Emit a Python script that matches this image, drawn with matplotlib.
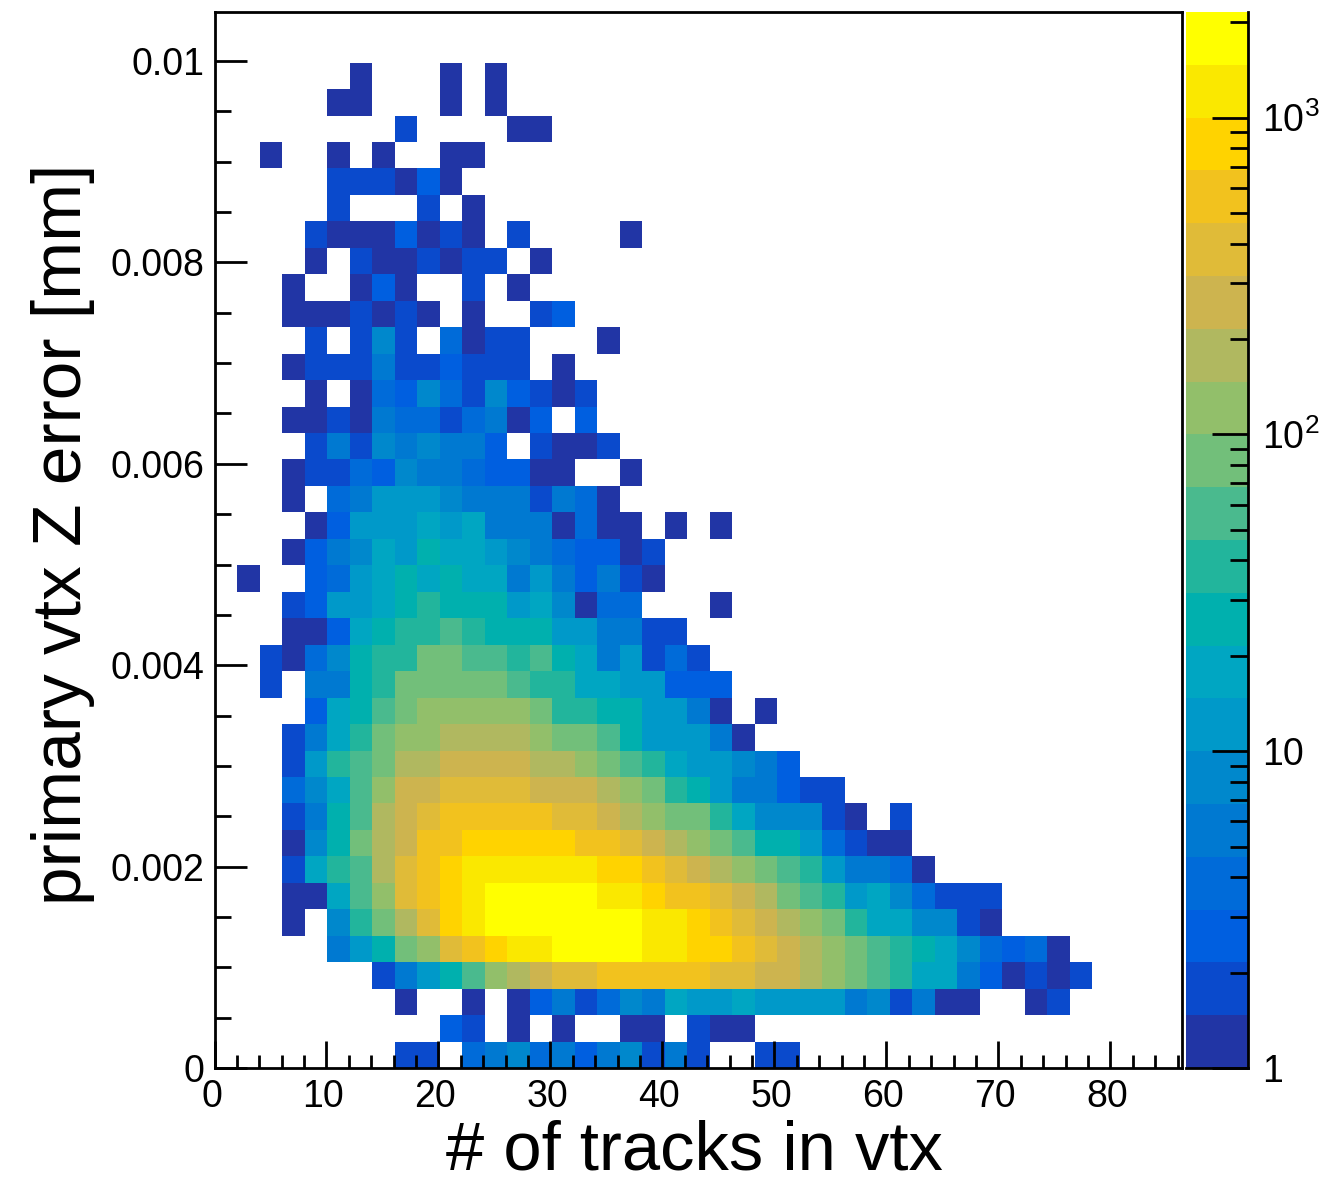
#!/usr/bin/env python3
"""Primary vertex Z error vs. number of tracks, drawn as a ROOT style COLZ histogram."""

import matplotlib
matplotlib.use("Agg")
import matplotlib.pyplot as plt
import numpy as np
from matplotlib.colors import BoundaryNorm, ListedColormap
from matplotlib.ticker import LogLocator, MultipleLocator, NullFormatter
from matplotlib.transforms import ScaledTranslation

# ---------------------------------------------------------------------------
# Data - counts per bin, bottom row first, from column 0
# ---------------------------------------------------------------------------
counts = [
    [0,0,0,0,0,0,0,0,2,2,0,4,5,8,4,5,3,5,8,2,5,2,0,0,2,2],
    [0,0,0,0,0,0,0,0,0,0,3,2,0,1,0,1,0,0,1,1,0,2,1,1],
    [0,0,0,0,0,0,0,0,1,0,0,1,0,1,3,5,2,4,8,5,18,12,12,18,12,12,12,12,5,8,2,5,1,1,0,0,1,2],
    [0,0,0,0,0,0,0,2,5,12,26,56,120,180,260,380,380,560,560,560,560,560,380,380,260,260,180,120,82,56,38,18,18,5,3,1,2,1,2],
    [0,0,0,0,0,5,12,26,82,120,380,560,820,1200,1200,1800,1800,1800,1800,1200,1200,820,820,560,380,260,180,120,82,56,38,26,18,8,4,3,4,1],
    [0,0,0,1,0,8,38,82,180,380,820,1200,1800,1800,1800,1800,1800,1800,1800,1200,1200,820,560,380,260,180,120,82,38,18,18,8,8,2,1],
    [0,0,0,1,1,18,56,120,380,560,820,1200,1800,1800,1800,1800,1800,1200,1200,820,560,560,380,260,180,82,56,38,12,18,8,4,2,2,2],
    [0,0,0,2,18,38,56,180,380,560,820,1200,1200,1200,1200,1200,1200,820,820,560,380,260,180,120,82,56,38,12,5,5,4,1],
    [0,0,0,1,8,26,82,180,260,560,560,820,820,820,820,820,560,560,380,260,180,120,82,56,26,26,12,4,2,1,1],
    [0,0,0,2,5,26,56,180,260,380,560,560,560,560,560,380,380,260,180,120,82,82,38,18,8,8,8,2,1,0,2],
    [0,0,0,4,8,18,56,120,260,260,380,380,380,380,260,260,260,180,120,82,38,26,12,5,5,3,2,2],
    [0,0,0,2,12,38,56,82,180,180,260,260,260,260,180,180,120,82,56,38,18,12,12,8,5,3],
    [0,0,0,2,5,18,38,82,120,120,180,180,180,180,120,82,82,56,26,12,12,12,5,1],
    [0,0,0,0,3,18,26,56,82,120,120,120,120,120,82,38,38,26,26,12,12,5,1,0,1],
    [0,0,2,0,5,5,26,38,82,82,82,82,82,56,38,38,18,18,12,12,3,3,3],
    [0,0,2,1,4,8,26,38,38,82,82,56,56,38,56,26,18,5,12,2,4,2],
    [0,0,0,1,1,3,18,26,38,38,56,38,26,26,26,12,12,5,5,2,2],
    [0,0,0,2,3,12,12,18,26,38,26,26,26,12,18,8,1,4,4,0,0,0,1],
    [0,1,0,0,3,4,12,18,26,18,26,18,18,5,12,5,3,5,2,1],
    [0,0,0,1,3,5,8,18,12,26,18,18,12,8,5,4,3,3,1,2],
    [0,0,0,0,1,3,12,12,12,18,12,18,5,5,5,1,4,1,1,0,1,0,1],
    [0,0,0,1,0,4,5,12,12,12,8,5,5,5,2,5,4,1],
    [0,0,0,1,2,2,4,3,8,5,5,4,3,3,1,1,0,0,1],
    [0,0,0,0,2,5,2,8,5,8,5,5,3,0,2,1,1,2],
    [0,0,0,1,1,2,1,5,4,4,2,4,5,1,3,0,3],
    [0,0,0,0,1,0,1,4,3,8,4,2,8,3,2,1,2],
    [0,0,0,1,2,2,2,5,2,2,3,2,2,2,0,1],
    [0,0,0,0,2,0,2,8,2,0,4,1,2,2,0,0,0,1],
    [0,0,0,1,1,1,2,1,2,1,0,1,0,0,2,3],
    [0,0,0,1,0,0,1,3,1,0,0,2,0,1],
    [0,0,0,0,1,0,2,1,1,2,1,2,2,0,1],
    [0,0,0,0,2,1,1,1,3,1,2,1,0,2,0,0,0,0,1],
    [0,0,0,0,0,2,0,0,0,2,0,1],
    [0,0,0,0,0,2,2,2,1,3,1],
    [0,0,1,0,0,1,0,1,0,0,1,1],
    [0,0,0,0,0,0,0,0,2,0,0,0,0,1,1],
    [0,0,0,0,0,1,1,0,0,0,1,0,1],
    [0,0,0,0,0,0,1,0,0,0,1,0,1],
]

n_xbins = 43
n_ybins = 40
x_max = 86.4
y_max = 0.010487
y_hist_max = 0.01051  # last bin edge, a bit past the frame
z_max = 2154.0

# palette bands of the colour bar, bottom to top
band_colors = [
    "#2135a5", "#0a4acc", "#005fe0", "#006bd9", "#0079d1",
    "#0088cc", "#0099c9", "#00a6c2", "#00b0ae", "#22b59c",
    "#4aba8e", "#72bf7a", "#92bf6a", "#b0b860", "#cdb44f",
    "#e0bb38", "#f2c21e", "#ffd300", "#fae800", "#ffff00",
]

x_label = "# of tracks in vtx"
y_label = "primary vtx Z error [mm]"
y_tick_values = [0, 0.002, 0.004, 0.006, 0.008, 0.01]
y_tick_labels = ["0", "0.002", "0.004", "0.006", "0.008", "0.01"]
z_tick_values = [1, 10, 100, 1000]
z_tick_labels = ["1", "10", "10$^{2}$", "10$^{3}$"]

# ---------------------------------------------------------------------------
# Figure
# ---------------------------------------------------------------------------
W, H = 1337, 1184
plt.rcParams["font.family"] = ["Liberation Sans", "DejaVu Sans"]
plt.rcParams["mathtext.default"] = "regular"


def px_axes(x0, y_top, x1, y_bottom):
    return [x0 / W, 1 - y_bottom / H, (x1 - x0) / W, (y_bottom - y_top) / H]


fig = plt.figure(figsize=(W / 100, H / 100), dpi=100)
ax = fig.add_axes(px_axes(214.5, 12, 1182, 1068))
cax = fig.add_axes(px_axes(1186, 12, 1248, 1068))

grid = np.zeros((n_ybins, n_xbins))
for i, row in enumerate(counts):
    grid[i, :len(row)] = row

x_edges = np.linspace(0, x_max, n_xbins + 1)
y_edges = np.linspace(0, y_hist_max, n_ybins + 1)
z_edges = np.logspace(0, np.log10(z_max), len(band_colors) + 1)

cmap = ListedColormap(band_colors)
norm = BoundaryNorm(z_edges, cmap.N, clip=True)
ax.pcolormesh(x_edges, y_edges, np.ma.masked_equal(grid, 0), cmap=cmap, norm=norm,
              antialiased=False, zorder=1)

ax.set_xlim(0, x_max)
ax.set_ylim(0, y_max)
ax.set_xticks(np.arange(0, 90, 10))
ax.xaxis.set_minor_locator(MultipleLocator(2))
ax.set_yticks(y_tick_values, y_tick_labels)
ax.yaxis.set_minor_locator(MultipleLocator(0.0005))
ax.tick_params(axis="x", which="major", direction="in", length=19.5, width=2, labelsize=27, pad=8)
ax.tick_params(axis="x", which="minor", direction="in", length=9.5, width=2)
ax.tick_params(axis="y", which="major", direction="in", length=23, width=2, labelsize=27, pad=7)
ax.tick_params(axis="y", which="minor", direction="in", length=11.5, width=2)
for spine in ax.spines.values():
    spine.set_linewidth(2)
    spine.set_zorder(5)

# x tick labels sit a little left of their ticks
nudge = ScaledTranslation(-3 / 100, 0, fig.dpi_scale_trans)
for label in ax.get_xticklabels():
    label.set_transform(label.get_transform() + nudge)

ax.set_xlabel(x_label, fontsize=49.5)
ax.xaxis.set_label_coords(0.496, -0.049, transform=ax.transAxes)
ax.xaxis.label.set_va("top")
ax.set_ylabel(y_label, fontsize=50)
ax.yaxis.set_label_coords(-0.1235, 0.505, transform=ax.transAxes)

# colour bar: one flat strip per palette band on a log axis
cax.pcolormesh([0, 1], z_edges, np.arange(len(band_colors)).reshape(-1, 1),
               cmap=cmap, vmin=-0.5, vmax=len(band_colors) - 0.5, antialiased=False)
cax.set_yscale("log")
cax.set_xlim(0, 1)
cax.set_ylim(1, z_max)
cax.set_xticks([])
cax.yaxis.tick_right()
cax.set_yticks(z_tick_values, z_tick_labels)
cax.yaxis.set_minor_locator(LogLocator(base=10, subs=np.arange(2, 10)))
cax.yaxis.set_minor_formatter(NullFormatter())
cax.tick_params(axis="y", which="major", direction="in", length=26, width=2, labelsize=27, pad=10)
cax.tick_params(axis="y", which="minor", direction="in", length=13, width=2)
cax.spines["top"].set_visible(False)
cax.spines["left"].set_visible(False)
cax.spines["bottom"].set_linewidth(2)
cax.spines["right"].set_linewidth(2)

fig.savefig("out.png", dpi=100)
plt.close(fig)
